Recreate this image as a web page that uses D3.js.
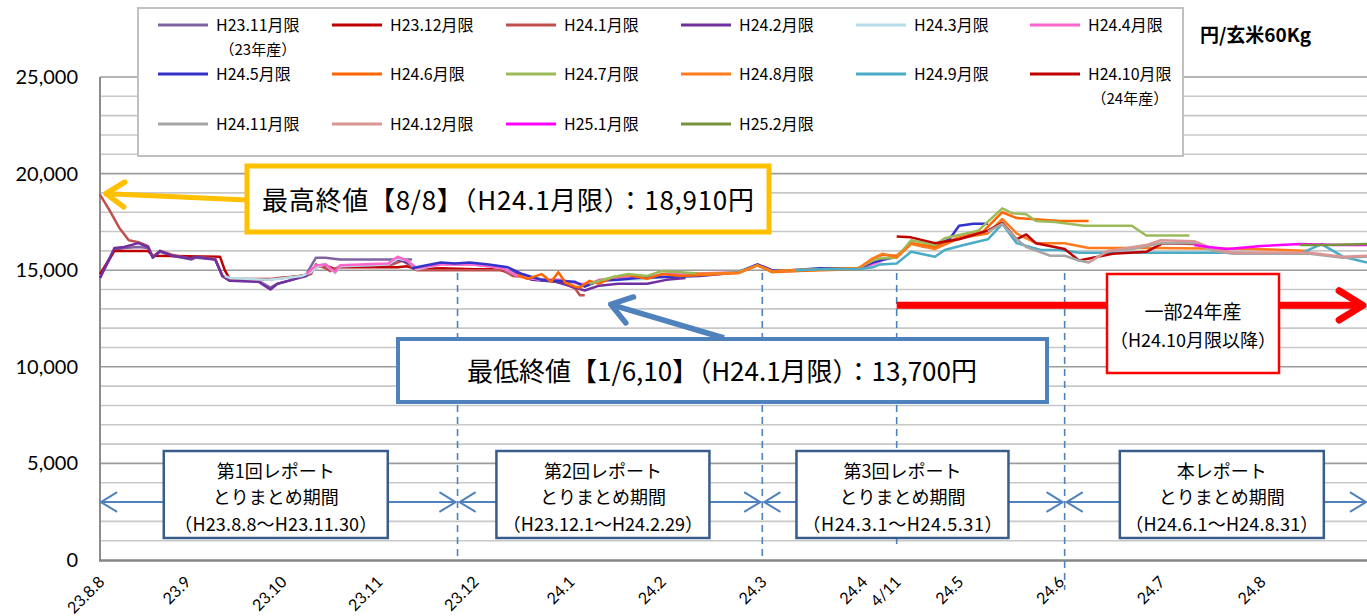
<!DOCTYPE html>
<html><head><meta charset="utf-8">
<script src="https://cdn.jsdelivr.net/npm/d3@7"></script>
<style>
html,body{margin:0;padding:0;background:#fff;}
svg{display:block;}
</style>
</head><body>
<svg id="chart" width="1367" height="616"></svg>
<script>
// ---------- DATA ----------
// x positions are trading-day index counted from 2011-08-08 (H23.8.8) to 2012-08-31
const tickLabels = ["23.8.8","23.9","23.10","23.11","23.12","24.1","24.2","24.3","24.4","4/11","24.5","24.6","24.7","24.8"];
const tickDays   = [0,18,38,58,78,98,117,138,159,166,179,200,221,242];
const lastDay = 264;
const yTicks = [0,5000,10000,15000,20000,25000];

const seriesNames = ["H23.11月限","H23.12月限","H24.1月限","H24.2月限","H24.3月限","H24.4月限",
  "H24.5月限","H24.6月限","H24.7月限","H24.8月限","H24.9月限","H24.10月限",
  "H24.11月限","H24.12月限","H25.1月限","H25.2月限"];
const seriesSubNames = ["（23年産）","","","","","","","","","","","（24年産）","","","",""];
const seriesColors = ["#8064A2","#C00000","#C0504D","#7030A0","#B7DEE8","#FF66CC",
  "#3333CC","#FF6600","#9BBB59","#FF7A1A","#4BACC6","#C00000",
  "#A6A6A6","#DA9694","#FF00FF","#77933C"];

// [trading day, 円/玄米60kg]
const h2311 = [[0,14600],[3,16050],[5,16150],[8,16200],[10,16150],[11,15650],[12.5,15950],[15,15750],[19,15550],[20,15650],[24,15550],[25.5,14700],[27,14450],[33,14450],[35.5,14100],[37,14300],[40,14500],[43,14800],[45,15650],[47,15650],[50,15550],[65,15550]];
const h2312 = [[0,14800],[3,16000],[10,16000],[11,15750],[25,15700],[26,15000],[27,14550],[36,14550],[40,14650],[43,14750],[45,15150],[47,15250],[49,15050],[50,15150],[62,15150],[64,15200],[66,15050],[71,15100],[78,15050],[83,15050],[86,14800],[88,14750]];
const h2401 = [[0,18910],[2,18100],[4,17200],[6,16550],[8,16450],[10,16250],[11,15700],[12.5,16000],[15,15800],[19,15600],[20,15700],[24,15600],[25.5,14700],[27,14500],[35,14500],[37,14600],[42,14700],[44,14800],[45,15300],[47,15100],[48,14950],[50,15200],[61,15300],[63,15500],[66,15000],[71,15000],[78,15000],[84,15000],[86,14700],[90,14600],[93,14500],[97,14300],[99,14050],[100,13700],[101,13700]];
const h2402 = [[0,14600],[3,16150],[5,16200],[8,16400],[10,16200],[11,15650],[12.5,16000],[15,15750],[19,15600],[20,15700],[24,15550],[25.5,14700],[27,14450],[33,14400],[35.5,14000],[37,14300],[40,14500],[43,14700],[45,15200],[47,15300],[49,14900],[50,15200],[60,15300],[62,15550],[64,15400],[66,15100],[71,15350],[78,15300],[83,15150],[86,14900],[90,14500],[95,14400],[99,14100],[101,13950],[104,14200],[108,14300],[114,14300],[118,14500],[122,14600]];
const h2403 = [[26,14700],[27,14600],[35,14500],[37,14550],[42,14700],[44,14900],[45,15150],[47,15300],[49,14850],[50,15200],[60,15300],[62,15600],[64,15500],[66,15050],[71,15300],[78,15300],[84,15100],[87,14700],[92,14500],[96,14500],[100,14250],[102,14300],[104,14450],[108,14500],[114,14550],[118,14700],[122,14750],[128,14800],[133,14900],[137,15250],[140,14950],[142,14950]];
const h2404 = [[43,14800],[45,15250],[47,15300],[49,14900],[50,15250],[60,15350],[62,15700],[64,15500],[66,15100],[71,15300],[78,15300],[84,15100],[87,14700],[92,14500],[96,14500],[100,14300],[102,14300],[104,14500],[108,14600],[114,14650],[118,14800],[122,14800],[128,14850],[133,14900],[137,15300],[140,15000],[144,14950],[150,15050],[158,15050],[161,15300],[163,15500]];
const h2405 = [[65,15100],[67,15200],[71,15400],[74,15350],[77,15400],[81,15300],[85,15150],[88,14800],[92,14500],[95,14450],[99,14400],[101,14150],[104,14450],[108,14500],[112,14600],[118,14650],[125,14700],[133,14900],[137,15300],[140,15000],[144,15000],[150,15100],[158,15100],[161,15400],[162.5,15500],[166,15700],[169,16400],[172,16200],[174,16300],[177,16600],[179,17300],[182,17400],[185,17400]];
const h2406 = [[87,14750],[89,14550],[92,14800],[94,14400],[95.5,14900],[97,14350],[99,14150],[100,14100],[102,14450],[104,14300],[107,14650],[110,14750],[114,14550],[117,14800],[121,14700],[126,14750],[133,14850],[137,15250],[140,14900],[144,14950],[150,15000],[158,15050],[161,15600],[163,15800],[166,15750],[169,16400],[174,16200],[179,16700],[184,17000],[188,18000],[191,17700],[194,17650],[200,17550],[206,17550]];
const h2407 = [[102,14300],[104,14450],[107,14650],[110,14800],[114,14700],[117,14950],[121,14900],[126,14800],[133,14900],[137,15250],[140,14950],[144,15000],[150,15050],[158,15100],[161,15500],[162.5,15600],[166,15650],[169,16550],[174,16300],[176,16650],[183,17050],[188,18200],[190,17950],[193,17900],[195,17550],[199,17500],[205,17300],[215,17300],[218,16800],[227,16800]];
const h2408 = [[124,14800],[133,14850],[137,15250],[140,14950],[144,15000],[150,15050],[158,15100],[161,15600],[163,15850],[166,15650],[169,16350],[174,16100],[179,16650],[185,16900],[188,17650],[191,16900],[195,16400],[201,16400],[206,16150],[220,16150],[240,16100],[252,16000]];
const h2409 = [[145,15000],[150,15050],[158,15050],[161,15150],[162.5,15300],[166,15350],[169,15950],[174,15700],[176,16050],[180,16300],[185,16600],[188,17400],[191,16400],[196,16050],[200,16050],[204,15900],[215,15900],[225,15900],[235,15900],[250,15850],[254.5,16350],[259,15700],[264,15400]];
const h2410 = [[166,16750],[169,16700],[174,16400],[179,16600],[185,17050],[188,17450],[191,16600],[193,16850],[195,16400],[201,16100],[204,15500],[211,15850],[218,15950],[221.5,16400],[228,16350]];
const h2411 = [[185,17000],[188,17400],[191,16600],[193,16200],[198,15750],[201,15750],[204,15500],[206,15400],[210,16000],[215,16100],[221,16400],[228,16400],[232,16000],[236,15850],[252,15850],[259,15650],[264,15700]];
const h2412 = [[206,15400],[210,16000],[214,16150],[218,16300],[221,16550],[228,16500],[232,16100],[236,15900],[252,15900],[259,15700],[264,15750]];
const h2501 = [[228,16300],[231,16200],[235,16100],[242,16250],[250,16350],[258,16300],[264,16300]];
const h2502 = [[250,16300],[256,16300],[264,16350]];
const seriesData = [h2311,h2312,h2401,h2402,h2403,h2404,h2405,h2406,h2407,h2408,h2409,h2410,h2411,h2412,h2501,h2502];

// annotations (data units)
const highPoint = [0,18910];
const lowPoint = [101,13700];
const reportBounds = [0,74.5,138,201,lastDay];   // 期間 boundaries (trading day)
const reportPeriodLevel = 3000;
const newCropStart = 166;       // 4/11
const newCropLevel = 13180;
const reportTexts = [
  ["第1回レポート","とりまとめ期間","（H23.8.8～H23.11.30）"],
  ["第2回レポート","とりまとめ期間","（H23.12.1～H24.2.29）"],
  ["第3回レポート","とりまとめ期間","（H24.3.1～H24.5.31）"],
  ["本レポート","とりまとめ期間","（H24.6.1～H24.8.31）"]
];

// ---------- DRAW ----------
const svg = d3.select("#chart");
const JP = "'Noto Sans CJK JP','Noto Sans',sans-serif";
const NUM = "Lato,'Noto Sans',sans-serif";
const x = d3.scaleLinear().domain([0,lastDay]).range([100,1367]);
const y = d3.scaleLinear().domain([0,25000]).range([560,77]);

// gridlines
const grid = svg.append("g");
d3.range(1000,25001,1000).forEach(v=>{
  grid.append("line").attr("x1",100).attr("x2",1367).attr("y1",y(v)).attr("y2",y(v))
    .attr("stroke", v%5000===0 ? "#9C9C9C" : "#C8C8C8").attr("stroke-width",1.6);
});
// y axis labels
const yAxis = d3.axisLeft(y).tickValues(yTicks).tickFormat(d3.format(",")).tickSize(0).tickPadding(22);
const gy = svg.append("g").attr("transform","translate(100,0)").call(yAxis);
gy.select(".domain").remove();
gy.selectAll("text").attr("font-family",NUM).attr("font-size",20).attr("fill","#000");
// axis lines
svg.append("line").attr("x1",100).attr("x2",100).attr("y1",77).attr("y2",561).attr("stroke","#8C8C8C").attr("stroke-width",2);
svg.append("line").attr("x1",99).attr("x2",1367).attr("y1",560.5).attr("y2",560.5).attr("stroke","#868686").attr("stroke-width",2.5);

// x tick labels
const xAxis = d3.axisBottom(x).tickValues(tickDays).tickFormat((d,i)=>tickLabels[i]).tickSize(0);
const gx = svg.append("g").attr("transform","translate(0,561)").call(xAxis);
gx.select(".domain").remove();
gx.selectAll("text").attr("font-family",NUM).attr("font-size",16).attr("fill","#000")
  .attr("text-anchor","end").attr("dy",0).attr("y",0)
  .attr("transform","translate(5,22) rotate(-45)");

// dashed period lines
const dashG = svg.append("g");
reportBounds.slice(1,4).concat([newCropStart]).forEach((d,i)=>{
  const bottom = (d===201) ? 590 : (d===newCropStart ? 546 : 557);
  dashG.append("line").attr("x1",x(d)).attr("x2",x(d)).attr("y1",y(14850)).attr("y2",bottom)
    .attr("stroke","#4F81BD").attr("stroke-width",1.6).attr("stroke-dasharray","7,5");
});

// series lines
const line = d3.line().x(d=>x(d[0])).y(d=>y(d[1]));
const lg = svg.append("g");
seriesData.forEach((s,i)=>{
  lg.append("path").attr("d",line(s)).attr("fill","none").attr("stroke",seriesColors[i])
    .attr("stroke-width",2.5).attr("stroke-linejoin","round");
});

// helper for open arrowheads
function head(g, tx, ty, ang, len, spread, color, w){
  const a1 = ang + Math.PI - spread, a2 = ang + Math.PI + spread;
  g.append("path").attr("d",`M${tx+len*Math.cos(a1)},${ty+len*Math.sin(a1)}L${tx},${ty}L${tx+len*Math.cos(a2)},${ty+len*Math.sin(a2)}`)
    .attr("fill","none").attr("stroke",color).attr("stroke-width",w).attr("stroke-linecap","round").attr("stroke-linejoin","round");
}
function fitText(sel, target){
  const w = sel.node().getComputedTextLength();
  if (w < target) sel.attr("textLength",target).attr("lengthAdjust","spacing");
  return sel;
}

// report period arrows & boxes
const pg = svg.append("g");
const py = y(reportPeriodLevel);
const boxW = [224,213,212,204];
const line3W = [203,200,200,193];
for(let i=0;i<4;i++){
  const x1 = x(reportBounds[i]) + (i===0?1:2), x2 = x(reportBounds[i+1]) - (i===3?1:2);
  pg.append("line").attr("x1",x1).attr("x2",x2).attr("y1",py).attr("y2",py).attr("stroke","#4F81BD").attr("stroke-width",2);
  head(pg,x1,py,Math.PI,18,0.55,"#4F81BD",2);
  head(pg,x2,py,0,18,0.55,"#4F81BD",2);
  const cx = (x(reportBounds[i])+x(reportBounds[i+1]))/2 + [-3,-7,-11,6][i];
  const bx = cx - boxW[i]/2;
  pg.append("rect").attr("x",bx).attr("y",451).attr("width",boxW[i]).attr("height",87)
    .attr("fill","#fff").attr("stroke","#385D8A").attr("stroke-width",2.5);
  reportTexts[i].forEach((t,j)=>{
    const tt = pg.append("text").attr("x",cx).attr("y",[478,504,531][j]).attr("text-anchor","middle")
      .attr("font-family",JP).attr("font-size",18).attr("fill","#000").text(t);
    if (j===2) fitText(tt, line3W[i]);
  });
}

// high annotation
const ag = svg.append("g");
const hx = x(highPoint[0]) + 6, hy = y(highPoint[1]) - 1;
ag.append("line").attr("x1",247).attr("y1",200).attr("x2",hx+2).attr("y2",hy).attr("stroke","#FFC000").attr("stroke-width",5);
head(ag,hx,hy,Math.atan2(hy-200,hx-247),22,0.6,"#FFC000",5.5);
ag.append("rect").attr("x",247).attr("y",166).attr("width",522).attr("height",66)
  .attr("fill","#fff").attr("stroke","#FFC000").attr("stroke-width",5);
fitText(ag.append("text").attr("x",508).attr("y",210).attr("text-anchor","middle")
  .attr("font-family",JP).attr("font-size",26).attr("fill","#000")
  .text("最高終値【8/8】（H24.1月限）：18,910円"), 492);

// low annotation
const lx = x(lowPoint[0]) + 26, ly = y(lowPoint[1]) + 9;
ag.append("line").attr("x1",724).attr("y1",338).attr("x2",lx+3).attr("y2",ly+1).attr("stroke","#4F81BD").attr("stroke-width",5.5);
head(ag,lx,ly,Math.atan2(ly-338,lx-724),24,0.6,"#4F81BD",5.5);
ag.append("rect").attr("x",398).attr("y",339).attr("width",649).attr("height",63)
  .attr("fill","#fff").attr("stroke","#4F81BD").attr("stroke-width",4);
fitText(ag.append("text").attr("x",722).attr("y",381).attr("text-anchor","middle")
  .attr("font-family",JP).attr("font-size",26).attr("fill","#000")
  .text("最低終値【1/6,10】（H24.1月限）：13,700円"), 505);

// new crop arrow
const ry = y(newCropLevel);
ag.append("line").attr("x1",x(newCropStart)).attr("x2",1360).attr("y1",ry).attr("y2",ry).attr("stroke","#FF0000").attr("stroke-width",7);
head(ag,1363,ry,0,28,0.55,"#FF0000",7);
ag.append("rect").attr("x",1107).attr("y",274).attr("width",172).attr("height",99)
  .attr("fill","#fff").attr("stroke","#FF0000").attr("stroke-width",2.5);
ag.append("text").attr("x",1193).attr("y",319).attr("text-anchor","middle")
  .attr("font-family",JP).attr("font-size",19).attr("fill","#000").text("一部24年産");
fitText(ag.append("text").attr("x",1193).attr("y",347).attr("text-anchor","middle")
  .attr("font-family",JP).attr("font-size",18).attr("fill","#000").text("（H24.10月限以降）"), 164);

// legend
const leg = svg.append("g");
leg.append("rect").attr("x",138).attr("y",8).attr("width",1045).attr("height",148)
  .attr("fill","#fff").attr("stroke","#C0C0C0").attr("stroke-width",2);
const colX = [158,332,506,681,856,1030];
const rowY = [25,74,124];
seriesNames.forEach((n,i)=>{
  const c = i%6, r = Math.floor(i/6);
  const lx0 = colX[c], ly0 = rowY[r];
  leg.append("line").attr("x1",lx0).attr("x2",lx0+50).attr("y1",ly0).attr("y2",ly0)
    .attr("stroke",seriesColors[i]).attr("stroke-width",3);
  const t = leg.append("text").attr("x",lx0+58).attr("y",ly0+6)
    .attr("font-family",JP).attr("font-size",16).attr("fill","#000").text(n);
  if(seriesSubNames[i]){
    const w = t.node().getComputedTextLength();
    leg.append("text").attr("x",lx0+58+w/2).attr("y",ly0+30).attr("text-anchor","middle")
      .attr("font-family",JP).attr("font-size",15).attr("fill","#000").text(seriesSubNames[i]);
  }
});

// unit label
svg.append("text").attr("x",1200).attr("y",42).attr("font-family",JP).attr("font-weight","bold")
  .attr("font-size",19).attr("fill","#000").text("円/玄米60Kg");
</script>
</body></html>
